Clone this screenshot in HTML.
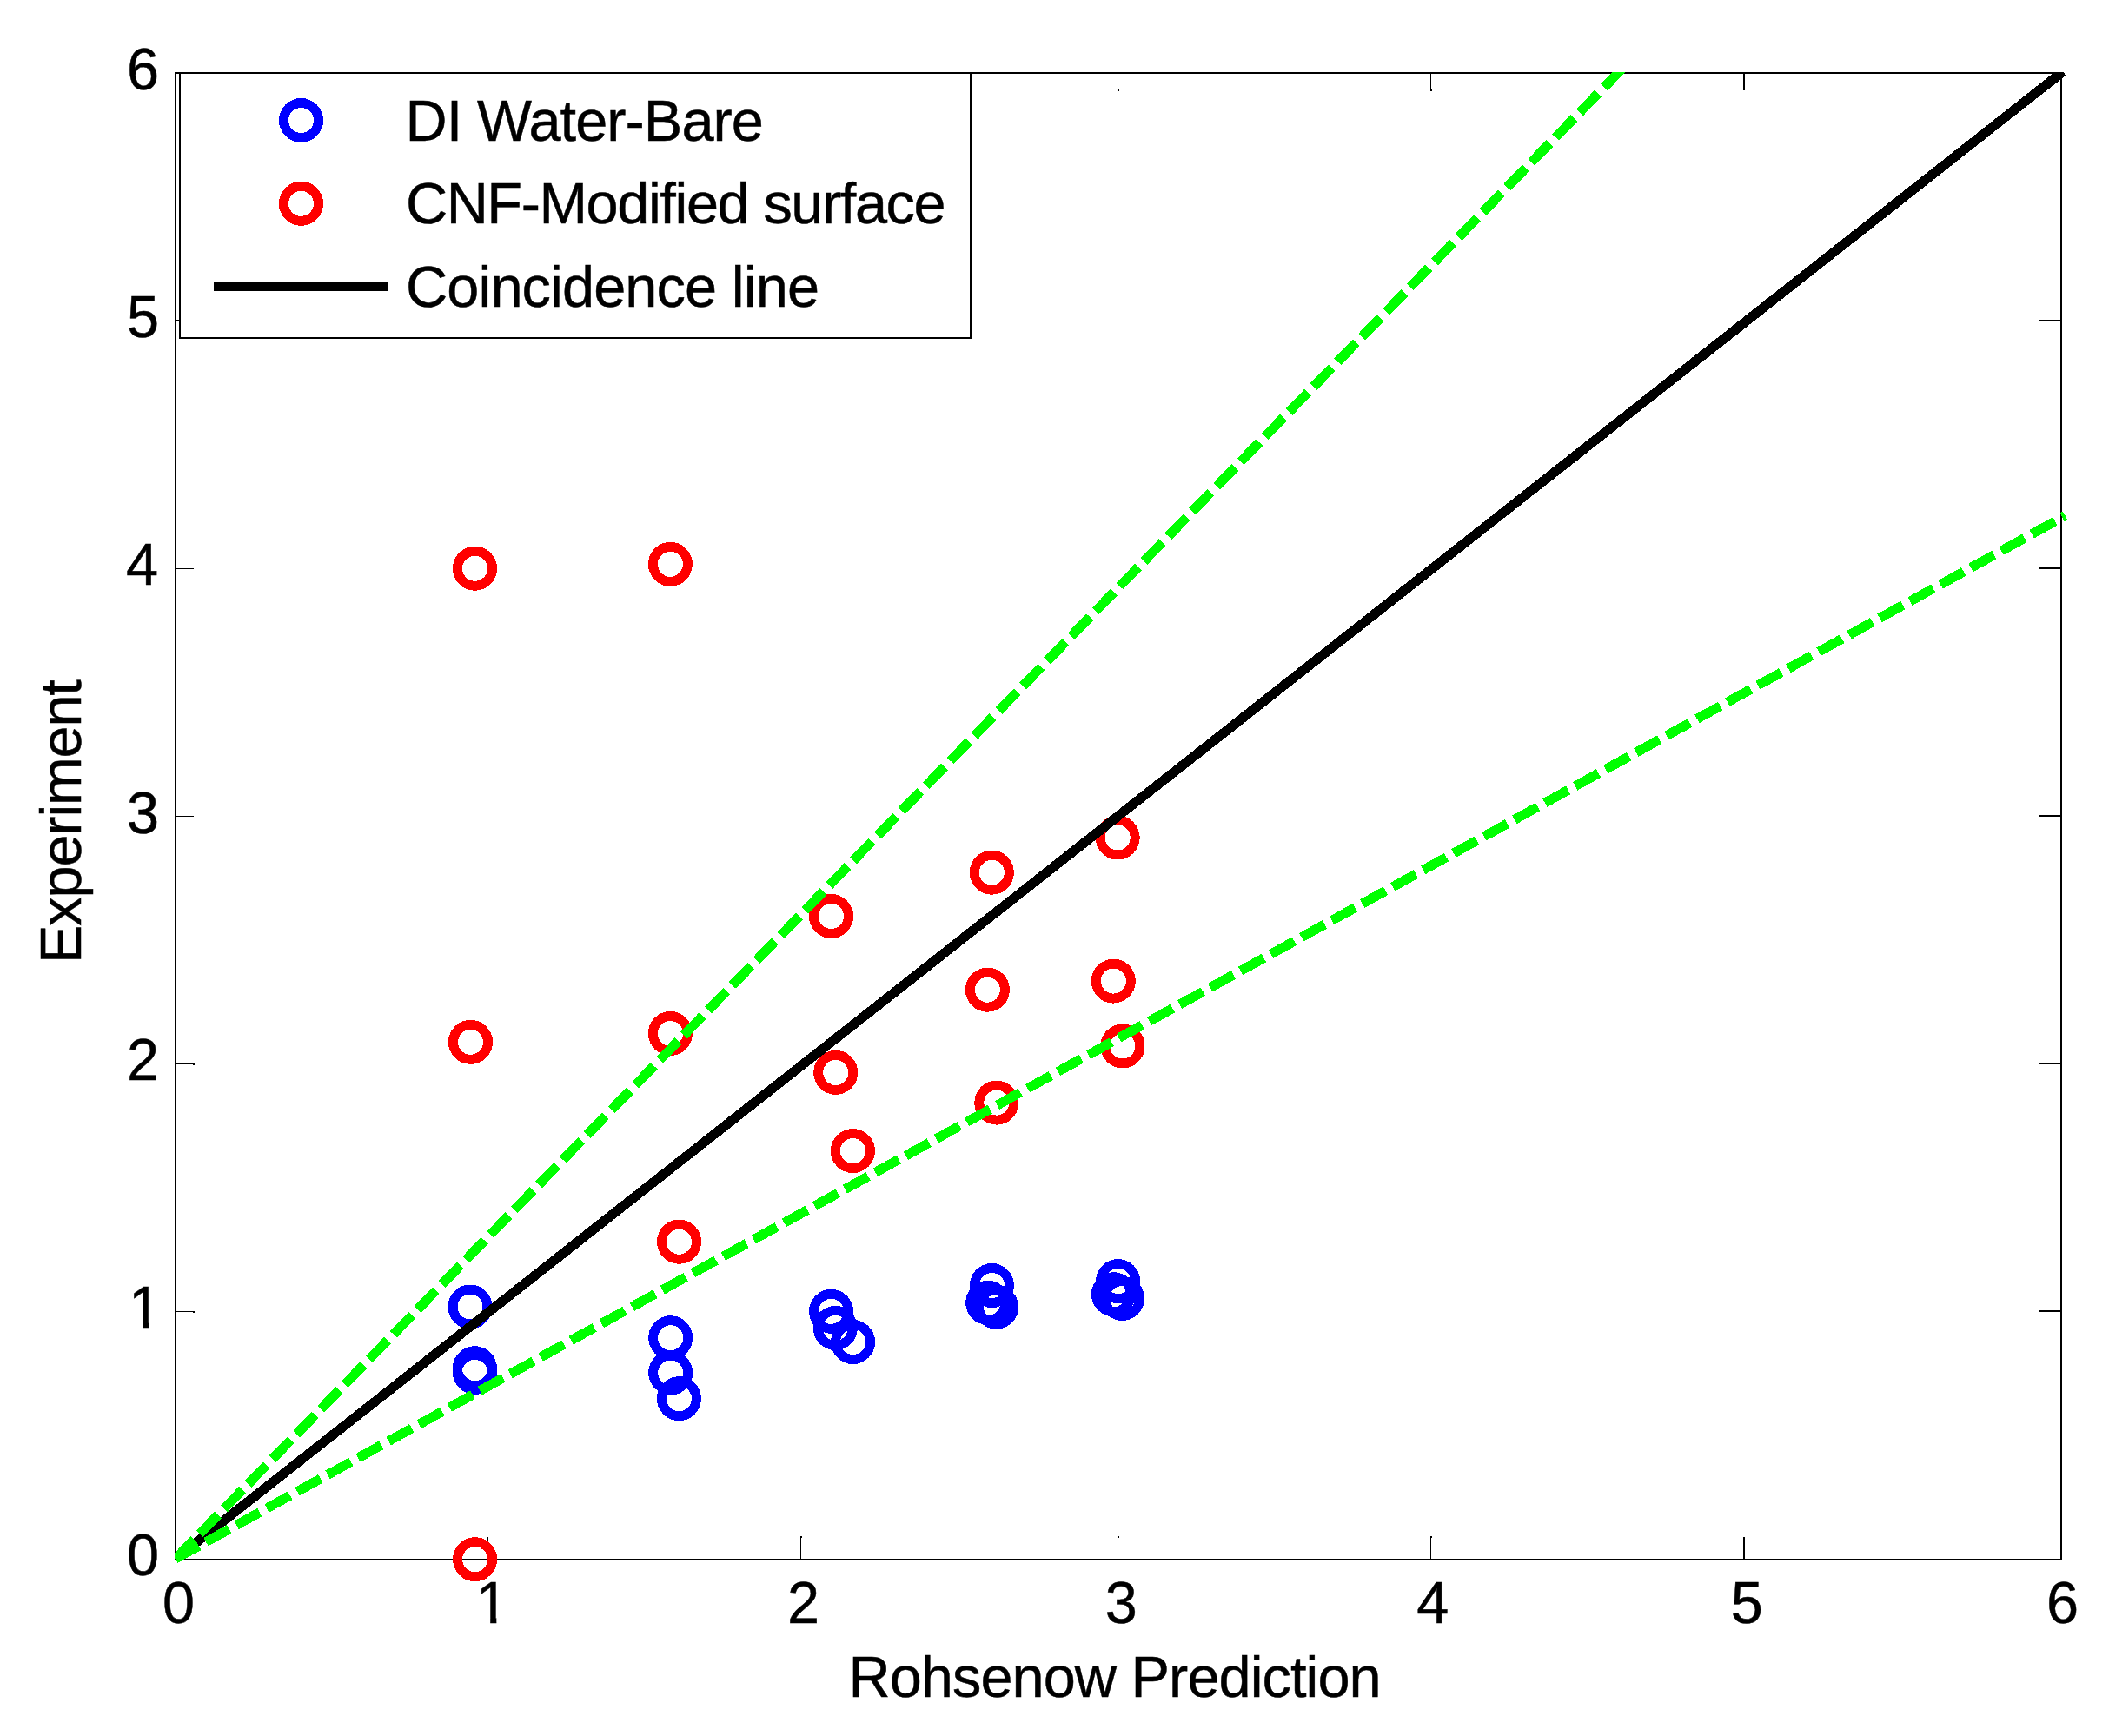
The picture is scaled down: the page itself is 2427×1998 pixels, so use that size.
<!DOCTYPE html>
<html><head><meta charset="utf-8"><title>Rohsenow Prediction vs Experiment</title>
<style>
html,body{margin:0;padding:0;background:#fff;}
body{width:2427px;height:1998px;overflow:hidden;}
svg{display:block;}
text{font-family:"Liberation Sans",Arial,Helvetica,sans-serif;font-size:69.4px;fill:#000;stroke:#000;stroke-width:0.5px;}
</style></head><body>
<svg width="2427" height="1998" viewBox="0 0 2427 1998">
<rect x="0" y="0" width="2427" height="1998" fill="#fff"/>
<defs><clipPath id="one"><path d="M0,-60H45V-6H24.6V1H17.2V-6H0Z"/></clipPath><clipPath id="cp"><rect x="201" y="83" width="2181" height="1718"/></clipPath></defs>

<g stroke="#000" stroke-width="2" fill="none" shape-rendering="crispEdges">
<line x1="202" y1="83" x2="202" y2="1795"/>
<line x1="2372" y1="83" x2="2372" y2="1795"/>
<line x1="201" y1="84" x2="2373" y2="84"/>
<line x1="201" y1="1794.4" x2="2373" y2="1794.4" stroke-width="1.4"/>
</g>
<g fill="#000" shape-rendering="crispEdges">
<rect x="561" y="1769" width="1" height="25"/>
<rect x="561" y="84" width="1" height="20"/>
<rect x="921" y="1769" width="1" height="25"/>
<rect x="921" y="84" width="1" height="20"/>
<rect x="1286" y="1769" width="1" height="25"/>
<rect x="1286" y="84" width="1" height="20"/>
<rect x="1646" y="1769" width="1" height="25"/>
<rect x="1646" y="84" width="1" height="20"/>
<rect x="2006" y="1769" width="2" height="25"/>
<rect x="2006" y="84" width="2" height="20"/>
<rect x="202" y="1509" width="21" height="1"/>
<rect x="202" y="1224" width="21" height="1"/>
<rect x="202" y="939" width="21" height="1"/>
<rect x="202" y="654" width="21" height="1"/>
<rect x="202" y="368" width="21" height="2"/>
<rect x="2346" y="1508" width="26" height="2"/>
<rect x="2346" y="1223" width="26" height="2"/>
<rect x="2346" y="938" width="26" height="2"/>
<rect x="2346" y="653" width="26" height="2"/>
<rect x="2346" y="368" width="26" height="2"/>
</g>
<g fill="#000" shape-rendering="crispEdges">
<rect x="921" y="1768" width="2" height="2"/>
<rect x="1286" y="1768" width="2" height="2"/>
<rect x="1646" y="1768" width="2" height="2"/>
<rect x="1286" y="103" width="2" height="2"/>
<rect x="1646" y="103" width="2" height="2"/>
<rect x="222" y="1509" width="2" height="2"/>
<rect x="222" y="1224" width="2" height="2"/>
<rect x="221" y="1795" width="2" height="1"/>
<rect x="2346" y="1795" width="2" height="1"/>
<rect x="2371" y="1795" width="2" height="1"/>
</g>
<g fill="none" stroke="#f00" stroke-width="11" shape-rendering="crispEdges">
<circle cx="546.5" cy="654.2" r="20"/>
<circle cx="771.4" cy="649.3" r="20"/>
<circle cx="956.5" cy="1054.5" r="20"/>
<circle cx="1141.3" cy="1004.2" r="20"/>
<circle cx="1286.2" cy="964" r="20"/>
<circle cx="1136.4" cy="1139.2" r="20"/>
<circle cx="1281.3" cy="1129.1" r="20"/>
<circle cx="961.7" cy="1234.4" r="20"/>
<circle cx="1146.8" cy="1269.1" r="20"/>
<circle cx="1291.9" cy="1204" r="20"/>
<circle cx="981.4" cy="1324.6" r="20"/>
<circle cx="541.5" cy="1199.3" r="20"/>
<circle cx="771.4" cy="1189.4" r="20"/>
<circle cx="781.5" cy="1429.2" r="20"/>
<circle cx="546.6" cy="1794.7" r="20"/>
</g>
<g fill="none" stroke="#00f" stroke-width="11" shape-rendering="crispEdges">
<circle cx="541" cy="1504" r="20"/>
<circle cx="546.4" cy="1574.7" r="20"/>
<circle cx="546.4" cy="1579.4" r="20"/>
<circle cx="771.7" cy="1539.7" r="20"/>
<circle cx="771.7" cy="1580" r="20"/>
<circle cx="781.4" cy="1609.7" r="20"/>
<circle cx="956.5" cy="1509.3" r="20"/>
<circle cx="961.3" cy="1528.5" r="20"/>
<circle cx="981.6" cy="1544.5" r="20"/>
<circle cx="1141.4" cy="1479.5" r="20"/>
<circle cx="1136.7" cy="1499.3" r="20"/>
<circle cx="1146.5" cy="1504.2" r="20"/>
<circle cx="1286.6" cy="1474.6" r="20"/>
<circle cx="1281.4" cy="1489.7" r="20"/>
<circle cx="1291.6" cy="1494.4" r="20"/>
</g>
<g clip-path="url(#cp)" fill="none" shape-rendering="crispEdges">
<line x1="202" y1="1794" x2="2374" y2="82.4" stroke="#000" stroke-width="11"/>
<line x1="202" y1="1794" x2="1900.8" y2="44" stroke="#0f0" stroke-width="11" stroke-dasharray="30.6 9.4"/>
<line x1="202" y1="1794" x2="2376.6" y2="593.5" stroke="#0f0" stroke-width="11" stroke-dasharray="30.6 9.4"/>
</g>
<rect x="207" y="84" width="909.6" height="305" fill="#fff" stroke="#000" stroke-width="2" shape-rendering="crispEdges"/>
<circle cx="346.5" cy="138.5" r="20" fill="none" stroke="#00f" stroke-width="11" shape-rendering="crispEdges"/>
<circle cx="346.5" cy="234.3" r="20" fill="none" stroke="#f00" stroke-width="11" shape-rendering="crispEdges"/>
<line x1="246" y1="329.5" x2="446" y2="329.5" stroke="#000" stroke-width="11" shape-rendering="crispEdges"/>
<text transform="translate(466.5,162) scale(0.9875,1)" style="font-size:67.5px;letter-spacing:-0.928px">DI Water-Bare</text>
<text transform="translate(466.9,257) scale(0.9875,1)" style="font-size:67.5px;letter-spacing:-1.407px">CNF-Modified surface</text>
<text transform="translate(467,353.2) scale(0.9875,1)" style="font-size:67.5px;letter-spacing:-0.878px">Coincidence line</text>
<text transform="translate(187,1868) scale(0.9605,1)" style="font-size:69.4px;">0</text>
<text transform="translate(547.6999999999999,1868) scale(0.9605,1)" style="font-size:69.4px" clip-path="url(#one)">1</text>
<text transform="translate(906,1868) scale(0.9605,1)" style="font-size:69.4px;">2</text>
<text transform="translate(1271.7,1868) scale(0.9605,1)" style="font-size:69.4px;">3</text>
<text transform="translate(1630.3,1868) scale(0.9605,1)" style="font-size:69.4px;">4</text>
<text transform="translate(1991.7,1868) scale(0.9605,1)" style="font-size:69.4px;">5</text>
<text transform="translate(2355,1868) scale(0.9605,1)" style="font-size:69.4px;">6</text>
<text transform="translate(146,1813) scale(0.9605,1)" style="font-size:69.4px;">0</text>
<text transform="translate(148.1,1528) scale(0.9605,1)" style="font-size:69.4px" clip-path="url(#one)">1</text>
<text transform="translate(146,1243) scale(0.9605,1)" style="font-size:69.4px;">2</text>
<text transform="translate(146,958.5) scale(0.9605,1)" style="font-size:69.4px;">3</text>
<text transform="translate(145,673) scale(0.9605,1)" style="font-size:69.4px;">4</text>
<text transform="translate(146,388) scale(0.9605,1)" style="font-size:69.4px;">5</text>
<text transform="translate(146,102.5) scale(0.9605,1)" style="font-size:69.4px;">6</text>
<text transform="translate(976.5,1952.9) scale(0.9875,1)" style="font-size:67.5px;letter-spacing:-0.934px">Rohsenow Prediction</text>
<text transform="translate(92.6,1109) rotate(-90) scale(0.9875,1)" style="font-size:67.5px;letter-spacing:-1.148px">Experiment</text>
</svg></body></html>
